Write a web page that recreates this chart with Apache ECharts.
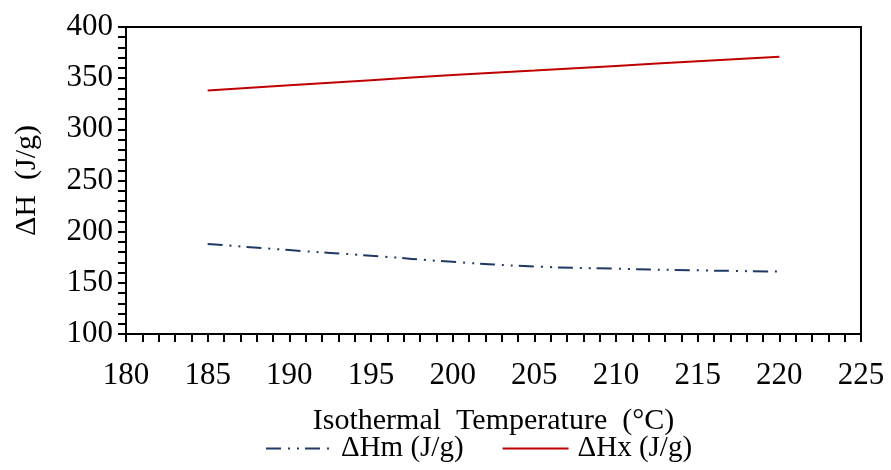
<!DOCTYPE html>
<html>
<head>
<meta charset="utf-8">
<script src="https://cdn.jsdelivr.net/npm/echarts@6/dist/echarts.min.js"></script>
<style>html,body{margin:0;padding:0;background:#fff}#c{width:891px;height:470px}</style>
</head>
<body>
<div id="c"></div>
<script>
var temps = [185, 190, 195, 200, 205, 210, 215, 220];
var dHm = [188, 182, 176.5, 170.5, 166, 163.8, 162.2, 161];
var dHx = [338, 343, 348, 353, 357.5, 362, 366.5, 371];
var seriesNames = ['\u0394Hm (J/g)', '\u0394Hx (J/g)'];
var xTitle = 'Isothermal  Temperature  (\u00B0C)';
var yTitle = '\u0394H  (J/g)';

var font = 'Liberation Serif';
var chart = echarts.init(document.getElementById('c'), null, {renderer: 'canvas'});
function pairs(xs, ys) { return xs.map(function (x, i) { return [x, ys[i]]; }); }
chart.setOption({
  animation: false,
  backgroundColor: '#fff',
  grid: {left: 126, top: 27, right: 30, bottom: 136, show: true, borderColor: '#000', borderWidth: 2, backgroundColor: 'transparent'},
  legend: {
    left: 265, top: 434, padding: 0, itemWidth: 66, itemHeight: 28, itemGap: 38,
    itemStyle: {opacity: 0},
    textStyle: {fontFamily: font, fontSize: 29, color: '#000', padding: [6, 0, 0, 4]},
    data: seriesNames
  },
  xAxis: {
    type: 'value', min: 180, max: 225, interval: 5,
    name: xTitle, nameLocation: 'middle', nameGap: 72,
    nameTextStyle: {fontFamily: font, fontSize: 30, color: '#000'},
    axisLine: {show: true, lineStyle: {color: '#000', width: 2}},
    axisTick: {show: true, inside: false, length: 8, lineStyle: {color: '#000', width: 2}},
    minorTick: {show: true, splitNumber: 5, length: 8, lineStyle: {color: '#000', width: 2}},
    axisLabel: {fontFamily: font, fontSize: 31, color: '#000', margin: 26},
    splitLine: {show: false}
  },
  yAxis: {
    type: 'value', min: 100, max: 400, interval: 50,
    name: yTitle, nameLocation: 'middle', nameGap: 84, nameRotate: 90,
    nameTextStyle: {fontFamily: font, fontSize: 30, color: '#000'},
    axisLine: {show: true, lineStyle: {color: '#000', width: 2}},
    axisTick: {show: true, inside: false, length: 8, lineStyle: {color: '#000', width: 2}},
    minorTick: {show: true, splitNumber: 5, length: 8, lineStyle: {color: '#000', width: 2}},
    axisLabel: {fontFamily: font, fontSize: 31, color: '#000', margin: 13},
    splitLine: {show: false}
  },
  series: [
    {
      name: seriesNames[0], type: 'line', data: pairs(temps, dHm), smooth: true,
      symbol: 'none', itemStyle: {color: '#1F3864'},
      lineStyle: {color: '#1F3864', width: 2, type: [15, 7, 2, 7, 2, 6]}
    },
    {
      name: seriesNames[1], type: 'line', data: pairs(temps, dHx), smooth: true,
      symbol: 'none', itemStyle: {color: '#C00000'},
      lineStyle: {color: '#C00000', width: 2}
    }
  ]
});
</script>
</body>
</html>
